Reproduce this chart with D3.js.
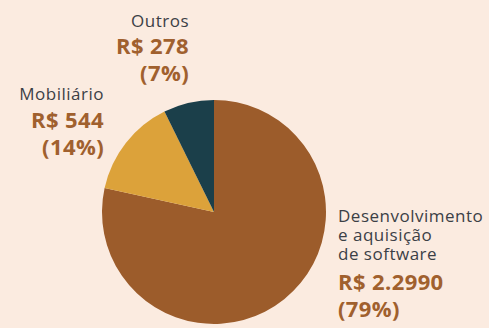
<!DOCTYPE html>
<html>
<head>
<meta charset="utf-8">
<script src="https://cdn.jsdelivr.net/npm/d3@7"></script>
<style>
  html, body { margin: 0; padding: 0; background: #fbebe0; }
  svg { display: block; }
  text { font-family: "Open Sans", "Noto Sans", sans-serif; }
</style>
</head>
<body>
<svg id="chart" width="489" height="328"></svg>
<script>
// Spending breakdown (R$)
const categories = ["Desenvolvimento e aquisição de software", "Mobiliário", "Outros"];
const values = [2990, 544, 278];
const valueLabels = ["R$ 2.2990", "R$ 544", "R$ 278"];
const percentLabels = ["(79%)", "(14%)", "(7%)"];
const nameLines = [["Desenvolvimento", "e aquisição", "de software"], ["Mobiliário"], ["Outros"]];
const colors = ["#9c5c2b", "#dca23a", "#1b3f4a"];

const W = 489, H = 328;
const cx = 214, cy = 212, r = 112;

const svg = d3.select("#chart");
const g = svg.append("g").attr("transform", `translate(${cx},${cy})`);

const pie = d3.pie().sort(null).value(d => d)(values);
const arc = d3.arc().innerRadius(0).outerRadius(r);

g.selectAll("path")
  .data(pie)
  .join("path")
  .attr("d", arc)
  .attr("fill", (d, i) => colors[i]);

const nameColor = "#3b4046";
const valueColor = "#a0602e";

// label blocks: anchor, x, first baseline, gap from name to value
const blocks = [
  { anchor: "start", x: 338, y: 222, gap: 30 },
  { anchor: "end", x: 104, y: 100, gap: 28 },
  { anchor: "end", x: 189, y: 27, gap: 27 }
];

blocks.forEach((b, i) => {
  const t = svg.append("g");
  let y = b.y;
  nameLines[i].forEach((line, k) => {
    if (k > 0) y += 19;
    t.append("text")
      .attr("x", b.x).attr("y", y)
      .attr("text-anchor", b.anchor)
      .attr("font-size", 17)
      .attr("letter-spacing", 0.5)
      .attr("fill", nameColor)
      .text(line);
  });
  y += b.gap;
  t.append("text")
    .attr("x", b.x).attr("y", y)
    .attr("text-anchor", b.anchor)
    .attr("font-size", 22)
    .attr("font-weight", 700)
    .attr("letter-spacing", 0.4)
    .attr("fill", valueColor)
    .text(valueLabels[i]);
  y += 27;
  t.append("text")
    .attr("x", b.x).attr("y", y)
    .attr("text-anchor", b.anchor)
    .attr("font-size", 22)
    .attr("font-weight", 700)
    .attr("letter-spacing", 0.4)
    .attr("fill", valueColor)
    .text(percentLabels[i]);
});
</script>
</body>
</html>
